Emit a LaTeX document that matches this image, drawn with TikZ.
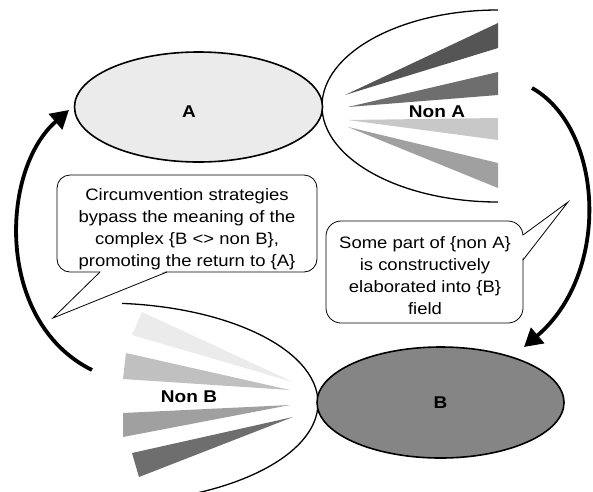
\documentclass[tikz,border=0pt]{standalone}
\usepackage{fontspec}
\setmainfont{Liberation Sans}[FakeStretch=1.12]
\usetikzlibrary{shapes.geometric,arrows.meta}
\definecolor{lightA}{HTML}{EBEBEB}
\definecolor{darkB}{HTML}{858585}
\definecolor{wA}{HTML}{555555}
\definecolor{wB}{HTML}{6E6E6E}
\definecolor{wC}{HTML}{C8C8C8}
\definecolor{wD}{HTML}{A0A0A0}
\definecolor{wE}{HTML}{EBEBEB}
\definecolor{wF}{HTML}{C0C0C0}
\tikzset{
  mainell/.style={ellipse, draw, line width=1.6pt, inner sep=0pt, minimum width=248pt, minimum height=110pt, font=\fontsize{17}{20}\selectfont\bfseries},
  outerell/.style={draw, line width=1.3pt, fill=white},
  lbl/.style={font=\fontsize{17}{20}\selectfont\bfseries},
  bubble/.style={draw, line width=0.8pt, fill=white, rounded corners=13pt},
  bubtext/.style={align=center, font=\fontsize{16.5}{22}\selectfont},
  bigarrow/.style={line width=3.8pt, -{Triangle[length=18pt,width=20pt]}},
}
\begin{document}
\begin{tikzpicture}[x=1pt,y=-1pt]
\useasboundingbox (0,0) rectangle (593,491);
% Non A region
\begin{scope}
  \clip (300,0) rectangle (498,230);
  \draw[outerell] (498,106) ellipse [x radius=176, y radius=96];
\end{scope}
\fill[wA] (345,95) -- (498,23) -- (498,48) -- cycle;
\fill[wB] (348,107) -- (498,72) -- (498,95) -- cycle;
\fill[wC] (348,120) -- (498,118) -- (498,140) -- cycle;
\fill[wD] (348,127) -- (498,163) -- (498,188) -- cycle;
\node[lbl] (nonA) at (437,112) {Non A};
% A
\node[mainell, fill=lightA] (A) at (198.5,107) {};
\node[lbl] (Alabel) at (189,112) {A};
% Non B region
\begin{scope}
  \clip (122,290) rectangle (330,491);
  \draw[outerell] (103,403) ellipse [x radius=215, y radius=100];
\end{scope}
\fill[wE] (142,312) -- (293,382) -- (132,335) -- cycle;
\fill[wF] (126,353) -- (290,390) -- (123,379) -- cycle;
\fill[wD] (123,413) -- (290,405) -- (123,437) -- cycle;
\fill[wB] (132,453) -- (293,417) -- (139,477) -- cycle;
\node[lbl] (nonB) at (189,397) {Non B};
% B
\node[mainell, fill=darkB, minimum width=247pt, minimum height=111pt] (B) at (440.5,402.5) {B};
% arrows
\coordinate (s1) at (532,88);
\coordinate (e1) at (524,347);
\coordinate (s2) at (92,370);
\coordinate (e2) at (69,110);
\draw[bigarrow] (s1) .. controls (603,128) and (612,272) .. (e1);
\draw[bigarrow] (s2) .. controls (-5,322) and (0,170) .. (e2);
% left callout
\draw[bubble] (57,175) rectangle (317,272);
\fill[white] (101,271) -- (53,318) -- (166,271) -- cycle;
\draw[line width=0.8pt, line join=miter] (100,272) -- (53,318) -- (167,272);
\node[bubtext] (t1) at (187,229) {Circumvention strategies\\bypass the meaning of the\\complex \{B <> non B\},\\promoting the return to \{A\}};
% right callout
\draw[bubble, rounded corners=15pt] (326,221) rectangle (523,323);
\fill[white] (522,236) -- (568,202) -- (522,259) -- cycle;
\draw[line width=0.8pt, line join=miter] (523,235) -- (568,202) -- (523,260);
\node[bubtext] (t2) at (425,275.5) {Some part of \{non A\}\\is constructively\\elaborated into \{B\}\\field};
\end{tikzpicture}
\end{document}
